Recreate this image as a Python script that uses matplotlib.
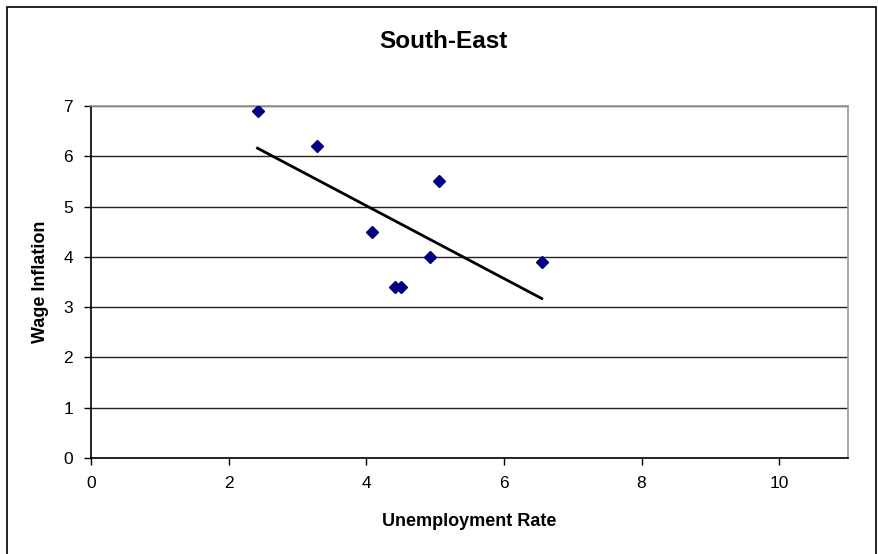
import numpy as np
import matplotlib
matplotlib.use("Agg")
import matplotlib.pyplot as plt
from matplotlib.patches import Rectangle

unemployment = [2.42, 3.28, 4.08, 4.42, 4.50, 4.92, 5.06, 6.55]
wage_inflation = [6.9, 6.2, 4.5, 3.4, 3.4, 4.0, 5.5, 3.9]
x_ticks = [0, 2, 4, 6, 8, 10]
y_ticks = [0, 1, 2, 3, 4, 5, 6, 7]

plt.rcParams['font.family'] = ['Liberation Sans', 'DejaVu Sans']

fig = plt.figure(figsize=(8.79, 5.54), dpi=100)
ax = fig.add_axes([91/879, 1-458/554, (848-91)/879, (458-106)/554])

# outer chart border
fig.patches.append(Rectangle((7/879, -0.05), (876-7)/879, 1.05 - 7/554, transform=fig.transFigure,
                             fill=False, edgecolor='black', linewidth=1.2))

ax.set_xlim(0, 11)
ax.set_ylim(0, 7)
ax.set_xticks(x_ticks)
ax.set_yticks(y_ticks)
ax.tick_params(axis='both', direction='out', length=5, width=1, labelsize=12.5, colors='black')
ax.tick_params(axis='x', pad=8)
ax.tick_params(axis='y', pad=8)

ax.yaxis.grid(True, color='#222222', linewidth=1.0)
ax.set_axisbelow(True)
for s in ['top', 'right']:
    ax.spines[s].set_color('#999999')
    ax.spines[s].set_linewidth(1.2)
for s in ['left', 'bottom']:
    ax.spines[s].set_color('black')
    ax.spines[s].set_linewidth(1.2)

ax.plot(unemployment, wage_inflation, linestyle='none', marker='D', markersize=6.5,
        color='#000080', zorder=3)

xa = np.array(unemployment)
ya = np.array(wage_inflation)
slope, intercept = np.polyfit(xa, ya, 1)
xl = np.array([xa.min(), xa.max()])
ax.plot(xl, slope*xl + intercept, color='black', linewidth=2.0, zorder=2)

fig.text(443/879, 1-41/554, 'South-East', ha='center', va='center', fontsize=17.5, fontweight='bold')
ax.set_xlabel('Unemployment Rate', fontsize=13, fontweight='bold')
ax.xaxis.label.set_va('center')
ax.xaxis.set_label_coords(0.5, (458-521)/352)
ax.set_ylabel('Wage Inflation', fontsize=13, fontweight='bold')
ax.yaxis.label.set_va('center')
ax.yaxis.set_label_coords((41-91)/757, 0.5)

fig.savefig('out.png', dpi=100)
